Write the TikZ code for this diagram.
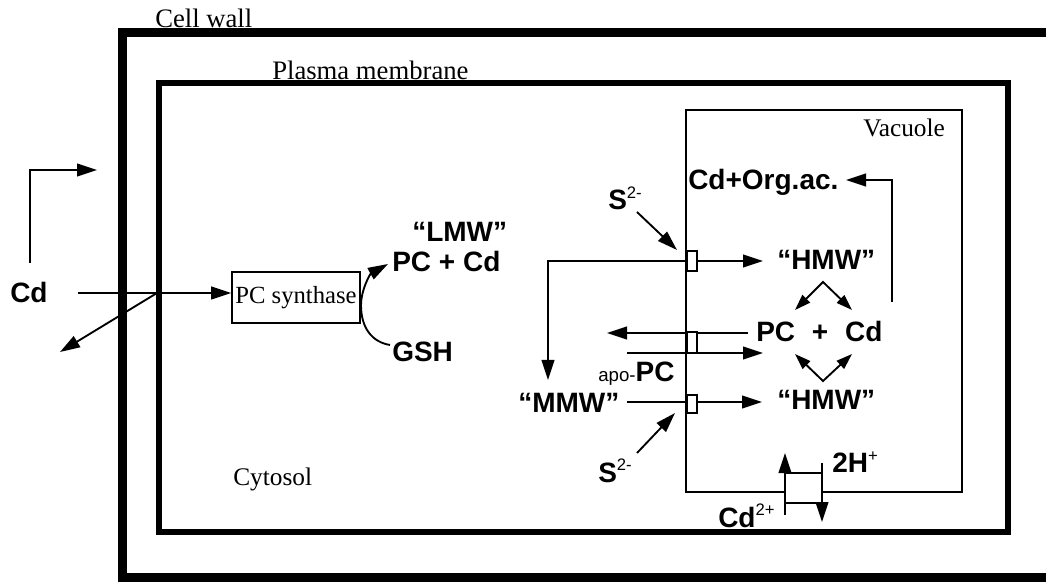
\documentclass[tikz,border=0pt]{standalone}
\usepackage{fontspec}
\setmainfont{Liberation Serif}
\setsansfont{Liberation Sans}
\usetikzlibrary{arrows.meta}
\newcommand\supx[1]{\raisebox{0.4em}{\fontsize{12.5}{12.5}\selectfont\mdseries #1}}
\begin{document}
\begin{tikzpicture}[x=0.75pt,y=-0.75pt,
  lbl/.style={font=\sffamily\bfseries\fontsize{21}{21}\selectfont,inner sep=0,anchor=base west},
  ser/.style={font=\rmfamily\fontsize{19}{19}\selectfont,inner sep=0,anchor=base west},
  ln/.style={line width=1.4pt},
  arr/.style={ln,-{Triangle[length=15pt,width=9.5pt]}},
  darr/.style={ln,{Triangle[length=12pt,width=8pt]}-{Triangle[length=12pt,width=8pt]}},
  chan/.style={draw,line width=1.2pt,fill=white,minimum width=7.5pt,minimum height=15pt,inner sep=0}]
\useasboundingbox (0,0) rectangle (1046,584);
% walls
\draw[line width=6.75pt] (1060,33) -- (122,33) -- (122,577) -- (1060,577);
\draw[line width=4.5pt] (159,83) rectangle (1008,532);
\draw[line width=2.2pt] (785,492) -- (686,492) -- (686,110) -- (962,110) -- (962,492) -- (822,492);
% serif labels
\node[ser,font=\rmfamily\fontsize{20}{20}\selectfont] (cw) at (155,28) {Cell wall};
\node[ser,font=\rmfamily\fontsize{20}{20}\selectfont] (pm) at (272,80) {Plasma membrane};
\node[ser] (vac) at (863,137) {Vacuole};
\node[ser] (cyt) at (233,485) {Cytosol};
% left part
\node[draw,line width=1.2pt,minimum width=96pt,minimum height=38pt,inner sep=0,font=\rmfamily\fontsize{18.5}{18.5}\selectfont] (pcs) at (296,297.5) {PC synthase};
\node[lbl] (cd) at (10,303) {Cd};
\coordinate (b1) at (30,263); \coordinate (b2) at (97,170);
\draw[arr] (b1) |- (b2);
\coordinate (cdl) at (78,293);
\draw[arr] (cdl) -- (cdl -| pcs.west);
\coordinate (ef0) at (157,293); \coordinate (ef1) at (60,352);
\draw[arr] (ef0) -- (ef1);
\node[lbl] (lmw) at (412,242) {“LMW”};
\node[lbl] (pccd) at (392,272) {PC + Cd};
\node[lbl] (gsh) at (392,362) {GSH};
\coordinate (g0) at (390,345); \coordinate (lt) at (388,264);
\draw[arr] (g0) .. controls (372,342) and (361,328) .. (361,305) .. controls (361,290) and (370,274) .. (lt);
% vacuole part
\coordinate (m1) at (548,261); \coordinate (mt) at (548,380);
\coordinate (h1t) at (763,261);
\coordinate (u0) at (748,333); \coordinate (u1) at (607,333);
\coordinate (l0) at (627,353); \coordinate (l1) at (763,353);
\coordinate (r0) at (627,402); \coordinate (r1) at (762,402);
\node[chan] (c1) at (692,261) {};
\node[chan,minimum height=15.75pt] (c2) at (692,342.5) {};
\node[chan,minimum height=13.5pt] (c3) at (692,404) {};
\draw[arr] (c1.west) -- (m1) -- (mt);
\draw[arr] (c1.east) -- (h1t);
\draw[arr] (u0) -- (u1);
\draw[arr] (l0) -- (l1);
\draw[ln] (r0) -- (r0 -| c3.west);
\draw[arr] (r0 -| c3.east) -- (r1);
\node[chan,minimum height=15.75pt] at (692,342.5) {};
\node[lbl] (hmw1) at (777,270) {“HMW”};
\node[lbl] (pccd2) at (756,342) {PC\hspace{0.6em}+\hspace{0.6em}Cd};
\node[lbl] (hmw2) at (777,410) {“HMW”};
\node[lbl] (apo) at (598,382) {{\fontsize{14}{14}\selectfont\mdseries apo-}PC};
\node[lbl] (mmw) at (518,413) {“MMW”};
\node[lbl] (s1) at (608,210) {S\supx{2-}};
\node[lbl] (s2) at (598,482) {S\supx{2-}};
\coordinate (s1a) at (637,212); \coordinate (s1b) at (677,250);
\coordinate (s2a) at (637,453); \coordinate (s2b) at (675,413);
\draw[arr] (s1a) -- (s1b);
\draw[arr] (s2a) -- (s2b);
\coordinate (dtl) at (795,310); \coordinate (dta) at (823,282); \coordinate (dtr) at (852,310);
\coordinate (dbl) at (795,354); \coordinate (dba) at (823,381); \coordinate (dbr) at (852,354);
\draw[darr] (dtl) -- (dta) -- (dtr);
\draw[darr] (dbl) -- (dba) -- (dbr);
\node[lbl] (coa) at (688,190) {Cd+Org.ac.};
\coordinate (o0) at (892,302); \coordinate (o1) at (846,180);
\draw[arr] (o0) |- (o1);
% bottom transporter
\coordinate (t1a) at (785,515); \coordinate (t1b) at (785,453);
\coordinate (t2a) at (822,463); \coordinate (t2b) at (822,522);
\coordinate (k1) at (785,473); \coordinate (k2) at (822,473);
\coordinate (k3) at (785,503); \coordinate (k4) at (822,503);
\draw[arr] (t1a) -- (t1b);
\draw[arr] (t2a) -- (t2b);
\draw[ln] (k1) -- (k2);
\draw[ln] (k3) -- (k4);
\node[lbl] (h2) at (832,473) {2H\supx{+}};
\node[lbl] (cd2) at (718,527) {Cd\supx{2+}};
\end{tikzpicture}
\end{document}
